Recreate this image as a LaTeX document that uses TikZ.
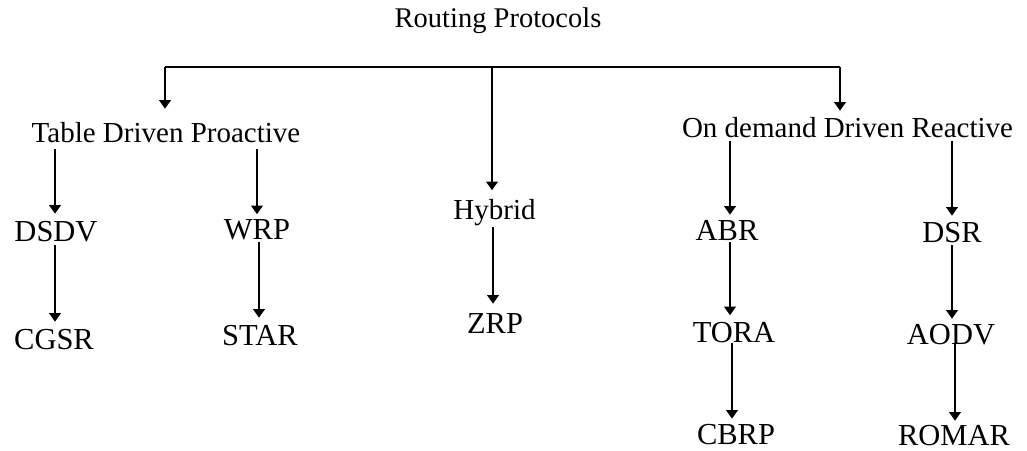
\documentclass[tikz,border=0pt]{standalone}
\usepackage{fontspec}
\setmainfont{Liberation Serif}
\usetikzlibrary{arrows.meta}
\begin{document}
\begin{tikzpicture}[x=1pt,y=-1pt,
  lbl/.style={inner sep=0pt, text depth=0pt, anchor=center},
  toplbl/.style={lbl, text height=18.9pt, font=\fontsize{28.5}{34}\selectfont},
  catlbl/.style={lbl, text height=19.2pt, font=\fontsize{29}{34}\selectfont},
  leaf/.style={lbl, text height=20.2pt, font=\fontsize{30.5}{36}\selectfont},
  link/.style={line width=1.8pt},
  arr/.style={link, -{Triangle[width=11.5pt,length=8.5pt]}}]
\useasboundingbox[fill=white] (0,0) rectangle (1027,450);

% title and branch bar
\node[toplbl] (root) at (498,18.5) {Routing Protocols};
\coordinate (barL) at (165,67);
\coordinate (barM) at (492,67);
\coordinate (barR) at (840,67);

% categories
\node[catlbl] (tdp) at (166,132.5) {Table Driven Proactive};
\node[catlbl] (hyb) at (494.5,210) {Hybrid};
\node[catlbl] (odr) at (847.5,127.5) {On demand Driven Reactive};

% protocols
\node[leaf] (dsdv) at (56,231) {DSDV};
\node[leaf] (cgsr) at (54,339) {CGSR};
\node[leaf] (wrp) at (257,229.5) {WRP};
\node[leaf] (star) at (260,335) {STAR};
\node[leaf] (zrp) at (495,323) {ZRP};
\node[leaf] (abr) at (727,230) {ABR};
\node[leaf] (tora) at (734,332.5) {TORA};
\node[leaf] (cbrp) at (736,434) {CBRP};
\node[leaf] (dsr) at (952,232) {DSR};
\node[leaf] (aodv) at (951,334) {AODV};
\node[leaf] (romar) at (954,435) {ROMAR};

% bar and drops
\draw[link] (barL) -- (barR);
\draw[arr, shorten >=14pt] (barL) -- (barL |- tdp.north);
\draw[arr, shorten >=10pt] (barM) -- (barM |- hyb.north);
\draw[arr, shorten >=7pt] (barR) -- (barR |- odr.north);

% table driven branch
\draw[arr, shorten <=7pt, shorten >=7pt] (tdp.south -| 55,0) -- (dsdv.north -| 55,0);
\draw[arr, shorten <=7pt, shorten >=5pt] (tdp.south -| 257,0) -- (wrp.north -| 257,0);
\draw[arr, shorten <=4pt, shorten >=7pt] (dsdv.south -| 55,0) -- (cgsr.north -| 55,0);
\draw[arr, shorten <=2pt, shorten >=7pt] (wrp.south -| 259,0) -- (star.north -| 259,0);

% hybrid branch
\draw[arr, shorten <=7pt, shorten >=9pt] (hyb.south -| 493,0) -- (zrp.north -| 493,0);

% on demand branch
\draw[arr, shorten <=4pt, shorten >=5pt] (odr.south -| 730,0) -- (abr.north -| 730,0);
\draw[arr, shorten <=4pt, shorten >=6pt] (odr.south -| 952,0) -- (dsr.north -| 952,0);
\draw[arr, shorten <=2pt, shorten >=7pt] (abr.south -| 730,0) -- (tora.north -| 730,0);
\draw[arr, shorten <=0pt, shorten >=5pt] (tora.south -| 732,0) -- (cbrp.north -| 732,0);
\draw[arr, shorten <=3pt, shorten >=5pt] (dsr.south -| 952,0) -- (aodv.north -| 952,0);
\draw[arr, shorten <=0pt, shorten >=4pt] (aodv.south -| 955,0) -- (romar.north -| 955,0);
\end{tikzpicture}
\end{document}
